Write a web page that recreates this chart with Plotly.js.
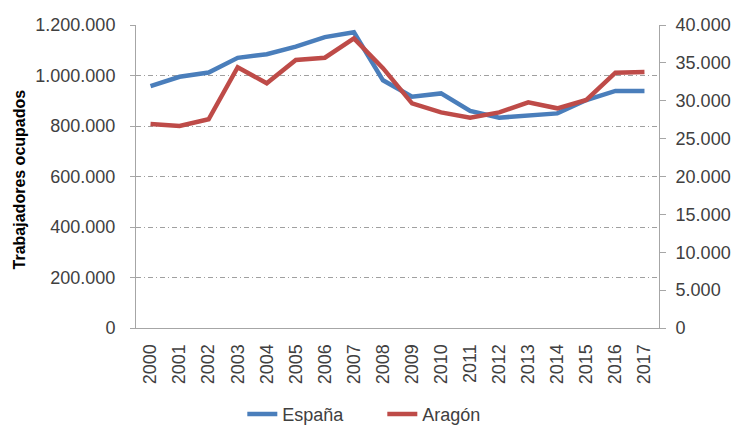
<!DOCTYPE html>
<html>
<head>
<meta charset="utf-8">
<script src="https://cdn.plot.ly/plotly-3.0.1.min.js"></script>
<style>html,body{margin:0;padding:0;background:#fff;}#chart{width:731px;height:425px;}</style>
</head>
<body>
<div id="chart"></div>
<script>
const years = ["2000","2001","2002","2003","2004","2005","2006","2007","2008","2009","2010","2011","2012","2013","2014","2015","2016","2017"];
const espana = [958000, 995000, 1012000, 1070000, 1084000, 1114000, 1152000, 1171000, 981000, 916000, 929000, 860000, 833000, 841000, 850000, 903000, 939000, 939000];
const aragon = [26930, 26670, 27550, 34420, 32300, 35380, 35680, 38240, 34300, 29660, 28470, 27760, 28470, 29800, 29000, 30100, 33700, 33800];
const seriesNames = ["España", "Aragón"];
const yTitle = "Trabajadores ocupados";

const font = {family: "Liberation Sans, Arial, sans-serif", size: 18, color: "#404040"};
const axisGray = "#A6A6A6";

const traces = [
  {x: years, y: espana, name: seriesNames[0], type: "scatter", mode: "lines",
   line: {color: "#4A7EBB", width: 4.5}, yaxis: "y"},
  {x: years, y: aragon, name: seriesNames[1], type: "scatter", mode: "lines",
   line: {color: "#BE4B48", width: 4.5}, yaxis: "y2"}
];

const layout = {
  width: 731, height: 425,
  margin: {l: 136, r: 72, t: 25, b: 97},
  paper_bgcolor: "#fff", plot_bgcolor: "#fff",
  separators: ",.",
  font: font,
  showlegend: true,
  xaxis: {
    type: "category", range: [-0.5, 17.5], tickangle: -90,
    showline: true, linecolor: axisGray, linewidth: 1,
    showgrid: false, ticks: "", ticklabelstandoff: 8,
    tickfont: font, zeroline: false, fixedrange: true
  },
  yaxis: {
    range: [0, 1200000], dtick: 200000, tickformat: ",d",
    showline: true, linecolor: axisGray, linewidth: 1,
    ticks: "outside", ticklen: 5, tickcolor: axisGray,
    showgrid: true, gridcolor: "#A0A0A0", griddash: "5px,3px,1px,3px", gridwidth: 1,
    zeroline: false, tickfont: font, ticklabelstandoff: 11
  },
  yaxis2: {
    overlaying: "y", side: "right",
    range: [0, 40000], dtick: 5000, tickformat: ",d",
    showline: true, linecolor: axisGray, linewidth: 1,
    ticks: "outside", ticklen: 6, tickcolor: axisGray,
    showgrid: false, zeroline: false, tickfont: font, ticklabelstandoff: 6
  },
  legend: {
    orientation: "h", xref: "container", yref: "container",
    x: 0.523, xanchor: "center", y: 0.025, yanchor: "middle",
    font: {family: "Liberation Sans, Arial, sans-serif", size: 18, color: "#404040"},
    bgcolor: "rgba(0,0,0,0)", entrywidth: 95
  },
  annotations: [{
    text: "<b>" + yTitle + "</b>", xref: "paper", yref: "paper",
    x: -0.222, y: 0.49, xanchor: "center", yanchor: "middle",
    textangle: -90, showarrow: false,
    font: {family: "Liberation Sans, Arial, sans-serif", size: 16, color: "#000"}
  }]
};

Plotly.newPlot("chart", traces, layout, {staticPlot: true, displayModeBar: false});
</script>
</body>
</html>
